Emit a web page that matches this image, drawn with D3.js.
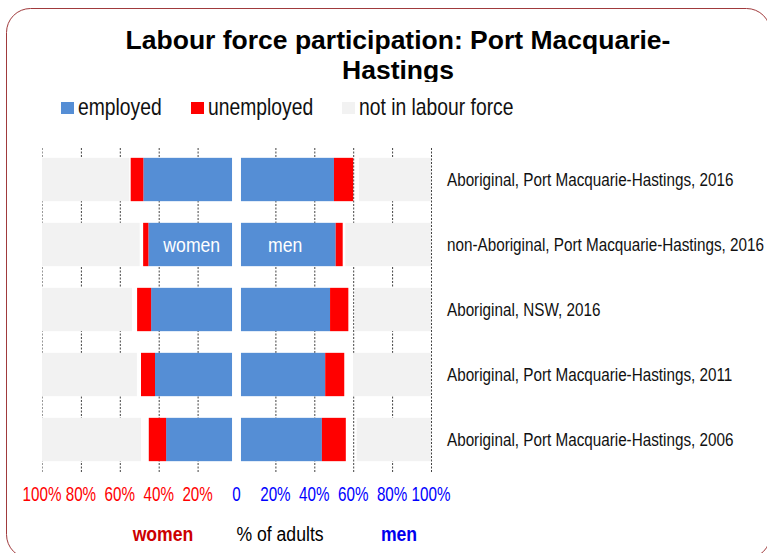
<!DOCTYPE html>
<html>
<head>
<meta charset="utf-8">
<script src="https://cdn.jsdelivr.net/npm/d3@7"></script>
<style>
  body { margin: 0; background: #fff; }
  text { font-family: "Liberation Sans", Arial, sans-serif; }
  .title { font-weight: bold; }
</style>
</head>
<body>
<svg id="chart" width="767" height="553"></svg>
<script>
// rows, top to bottom
const categories = [
  "Aboriginal, Port Macquarie-Hastings, 2016",
  "non-Aboriginal, Port Macquarie-Hastings, 2016",
  "Aboriginal, NSW, 2016",
  "Aboriginal, Port Macquarie-Hastings, 2011",
  "Aboriginal, Port Macquarie-Hastings, 2006"
];

// % of adults
const womenEmployed   = [45.6, 43.0, 41.6, 39.6, 33.9];
const womenUnemployed = [6.5, 2.7, 7.2, 7.2, 8.9];
const womenNotInLF    = [44.9, 50.2, 46.3, 48.8, 50.9];

const menEmployed   = [47.8, 48.7, 45.8, 43.3, 41.6];
const menUnemployed = [9.9, 3.6, 9.4, 9.8, 12.3];
const menNotInLF    = [37.0, 44.1, 39.2, 40.1, 38.2];

const womenTicks = [100, 80, 60, 40, 20];
const menTicks = [0, 20, 40, 60, 80, 100];
const gridTicks = [20, 40, 60, 80, 100];

const legendItems = ["employed", "unemployed", "not in labour force"];
const colors = { employed: "#558ed5", unemployed: "#ff0000", nilf: "#f2f2f2" };

// the original uses a narrow font, squeeze regular text instead
const narrow = 0.84;
const at = (x, y, sx) => `translate(${x},${y}) scale(${sx || narrow},1)`;

const svg = d3.select("#chart");

// rounded frame
svg.append("rect")
  .attr("x", 6.5).attr("y", 8.5)
  .attr("width", 764).attr("height", 550)
  .attr("rx", 24).attr("ry", 24)
  .attr("fill", "#fff")
  .attr("stroke", "#a03a3c")
  .attr("stroke-width", 1);

// title (second line gets clipped at the plot top like the original)
svg.append("clipPath").attr("id", "titleClip")
  .append("rect").attr("x", 0).attr("y", 0).attr("width", 767).attr("height", 82);

const title = svg.append("text")
  .attr("class", "title")
  .attr("clip-path", "url(#titleClip)")
  .attr("text-anchor", "middle")
  .attr("font-size", 26.5)
  .attr("fill", "#000");
title.append("tspan").attr("x", 398).attr("y", 49).text("Labour force participation: Port Macquarie-");
title.append("tspan").attr("x", 398).attr("y", 79).text("Hastings");

// legend
const legendX = [61, 191, 342];
const legendCol = [colors.employed, colors.unemployed, colors.nilf];
const legend = svg.append("g");
legendItems.forEach((d, i) => {
  legend.append("rect")
    .attr("x", legendX[i]).attr("y", 102)
    .attr("width", 13).attr("height", 12)
    .attr("fill", legendCol[i]);
  legend.append("text")
    .attr("transform", at(legendX[i] + 17, 115))
    .attr("font-size", 23)
    .attr("fill", "#111")
    .text(d);
});

// scales
const xW = d3.scaleLinear().domain([0, 100]).range([236.5, 42]);
const xM = d3.scaleLinear().domain([0, 100]).range([236.5, 431]);
const y = d3.scaleBand().domain(categories).range([147, 472])
  .paddingInner(1 / 3).paddingOuter(1 / 6);
const gap = 2.3; // small white gap either side of the centre

// grid lines
[xW, xM].forEach(x => {
  const g = svg.append("g")
    .attr("transform", "translate(0,472)")
    .call(d3.axisBottom(x).tickValues(gridTicks).tickSize(-(472 - 147)).tickFormat(""));
  g.select(".domain").remove();
  g.selectAll(".tick line")
    .attr("stroke", d => d === 100 && x === xW ? "#999" : "#444")
    .attr("stroke-dasharray", "2,1.5");
});

// build segments
function segments(emp, unemp, nilf) {
  return categories.map((c, i) => [
    { cat: c, key: "employed", start: gap, end: gap + emp[i] },
    { cat: c, key: "unemployed", start: gap + emp[i], end: gap + emp[i] + unemp[i] },
    { cat: c, key: "nilf", start: 100 - nilf[i], end: 100 }
  ]).flat();
}

const womenSegs = segments(womenEmployed, womenUnemployed, womenNotInLF);
const menSegs = segments(menEmployed, menUnemployed, menNotInLF);

svg.append("g").selectAll("rect")
  .data(womenSegs)
  .join("rect")
  .attr("x", d => xW(d.end))
  .attr("width", d => xW(d.start) - xW(d.end))
  .attr("y", d => y(d.cat))
  .attr("height", y.bandwidth())
  .attr("fill", d => colors[d.key]);

svg.append("g").selectAll("rect")
  .data(menSegs)
  .join("rect")
  .attr("x", d => xM(d.start))
  .attr("width", d => xM(d.end) - xM(d.start))
  .attr("y", d => y(d.cat))
  .attr("height", y.bandwidth())
  .attr("fill", d => colors[d.key]);

// labels inside second row
const midRow = y(categories[1]) + y.bandwidth() / 2 + 7;
svg.append("text")
  .attr("transform", at(xW(23), midRow))
  .attr("text-anchor", "middle")
  .attr("font-size", 21)
  .attr("fill", "#fff")
  .text("women");
svg.append("text")
  .attr("transform", at(xM(25), midRow))
  .attr("text-anchor", "middle")
  .attr("font-size", 21)
  .attr("fill", "#fff")
  .text("men");

// category labels
svg.append("g").selectAll("text")
  .data(categories)
  .join("text")
  .attr("transform", d => at(447, y(d) + y.bandwidth() / 2 + 6.5, 0.825))
  .attr("font-size", 18.5)
  .attr("fill", "#111")
  .text(d => d);

// tick labels
svg.append("g").selectAll("text")
  .data(womenTicks)
  .join("text")
  .attr("transform", d => at(xW(d), 501, 0.78))
  .attr("text-anchor", "middle")
  .attr("font-size", 19.5)
  .attr("fill", "#ff0000")
  .text(d => d + "%");

svg.append("g").selectAll("text")
  .data(menTicks)
  .join("text")
  .attr("transform", d => at(xM(d), 501, 0.78))
  .attr("text-anchor", "middle")
  .attr("font-size", 19.5)
  .attr("fill", "#0000ff")
  .text(d => d === 0 ? "0" : d + "%");

// bottom titles
svg.append("text")
  .attr("transform", at(163, 541))
  .attr("text-anchor", "middle")
  .attr("font-size", 21).attr("font-weight", "bold")
  .attr("fill", "#cc0000")
  .text("women");
svg.append("text")
  .attr("transform", at(280, 541))
  .attr("text-anchor", "middle")
  .attr("font-size", 21)
  .attr("fill", "#000")
  .text("% of adults");
svg.append("text")
  .attr("transform", at(399, 541))
  .attr("text-anchor", "middle")
  .attr("font-size", 21).attr("font-weight", "bold")
  .attr("fill", "#0000ee")
  .text("men");
</script>
</body>
</html>
